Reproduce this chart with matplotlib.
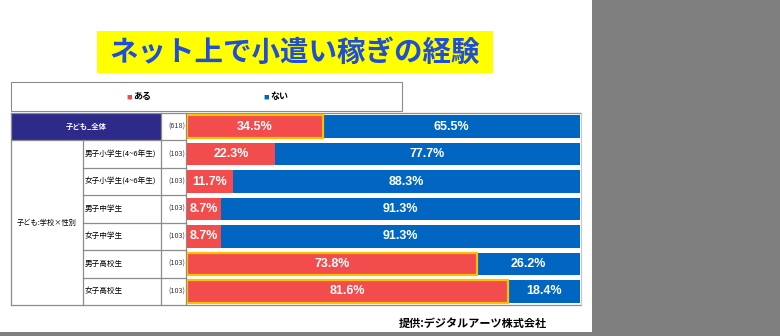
import matplotlib
matplotlib.use('Agg')
import matplotlib.pyplot as plt
from matplotlib.patches import Rectangle

plt.rcParams['font.family'] = ['Noto Sans CJK JP', 'DejaVu Sans']

# ---------------- data ----------------
title = 'ネット上で小遣い稼ぎの経験'
series_names = ['ある', 'ない']
group_label = '子ども:学校×性別'
categories = ['子ども_全体', '男子小学生(4~6年生)', '女子小学生(4~6年生)',
              '男子中学生', '女子中学生', '男子高校生', '女子高校生']
sample_sizes = ['(618)', '(103)', '(103)', '(103)', '(103)', '(103)', '(103)']
aru = [34.5, 22.3, 11.7, 8.7, 8.7, 73.8, 81.6]
nai = [65.5, 77.7, 88.3, 91.3, 91.3, 26.2, 18.4]
highlight_rows = [0, 5, 6]
source = '提供:デジタルアーツ株式会社'

# ---------------- style ----------------
RED = '#F24C4C'
BLUE = '#0066C2'
ORANGE = '#FFC000'
NAVY = '#2D2A8A'
LINE = '#8C8C8C'
GRAY_BG = '#7F7F7F'
NUM_FONT = ['Liberation Sans Narrow', 'Liberation Sans', 'DejaVu Sans']

W, H = 780, 336
fig = plt.figure(figsize=(W / 100, H / 100), dpi=100)
fig.patch.set_facecolor('white')

bg = fig.add_axes([0, 0, 1, 1])
bg.set_xlim(0, W)
bg.set_ylim(H, 0)
bg.axis('off')

# gray surround
bg.add_patch(Rectangle((592, 0), W - 592, H, color=GRAY_BG, lw=0, zorder=0))
bg.add_patch(Rectangle((0, 332), 592, H - 332, color=GRAY_BG, lw=0, zorder=0))

# title
bg.add_patch(Rectangle((97, 31), 396, 42, color='#FFFF00', lw=0, zorder=1))
bg.text(295, 53, title, ha='center', va='center', fontsize=20.5,
        fontweight='bold', color='#1F4FD8', zorder=2)

# legend box
bg.add_patch(Rectangle((11, 82), 391, 29, facecolor='white', edgecolor=LINE,
                       lw=0.8, zorder=1))
for name, col, x in zip(series_names, [RED, BLUE], [129, 266]):
    bg.text(x, 97, '■', ha='center', va='center', fontsize=4, color=col, zorder=2)
    bg.text(x + 4, 97, name, ha='left', va='center', fontsize=6.5,
            fontweight='bold', color='black', zorder=2)

# table geometry
top, bottom = 113, 305
n = len(categories)
rh = (bottom - top) / n
row_y = [top + i * rh for i in range(n + 1)]
x0, x1, x2, x3, xr = 11, 83, 161, 186, 581

bg.add_patch(Rectangle((x0, top), x2 - x0, rh, color=NAVY, lw=0, zorder=1))
kw = dict(color=LINE, lw=0.9, zorder=3)
bg.plot([x0, xr], [top, top], **kw)
bg.plot([x0, xr], [bottom, bottom], **kw)
bg.plot([x0, x0], [top, bottom], **kw)
bg.plot([xr, xr], [top, bottom], color='#C8C8C8', lw=0.9, zorder=3)
bg.plot([x2, x2], [top, bottom], **kw)
bg.plot([x3, x3], [top, bottom], **kw)
bg.plot([x1, x1], [row_y[1], bottom], **kw)
bg.plot([x0, x3], [row_y[1], row_y[1]], **kw)
for yy in row_y[2:-1]:
    bg.plot([x1, x3], [yy, yy], **kw)

# text in table
bg.text((x0 + x2) / 2, (row_y[0] + row_y[1]) / 2, categories[0], ha='center',
        va='center', fontsize=5.3, fontweight='bold', color='white', zorder=4)
bg.text((x0 + x1) / 2, (row_y[1] + bottom) / 2, group_label, ha='center',
        va='center', fontsize=5.2, color='black', zorder=4)
for i in range(1, n):
    bg.text(x1 + 1.5, (row_y[i] + row_y[i + 1]) / 2, categories[i], ha='left',
            va='center', fontsize=5.5, color='black', zorder=4)
for i in range(n):
    bg.text(x3 - 1, (row_y[i] + row_y[i + 1]) / 2, sample_sizes[i], ha='right',
            va='center', fontsize=5.2, color='#333333', zorder=4)

# source
bg.text(473, 323, source, ha='center', va='center', fontsize=8,
        fontweight='bold', color='black', zorder=4)

# ---------------- bars ----------------
bl, br = 187, 580
ax = fig.add_axes([bl / W, (H - bottom) / H, (br - bl) / W, (bottom - top) / H])
ax.set_xlim(0, 100)
ax.set_ylim(n - 0.5, -0.5)
ax.axis('off')
ax.patch.set_alpha(0)

ypos = list(range(n))
ax.barh(ypos, nai, left=aru, height=0.82, color=BLUE, lw=0, zorder=2)
edges = [ORANGE if i in highlight_rows else 'none' for i in ypos]
ax.barh(ypos, aru, height=0.82, color=RED, edgecolor=edges, lw=1.6, zorder=3)

for i in ypos:
    ax.text(aru[i] / 2, i, f'{aru[i]:.1f}%', ha='center', va='center',
            fontsize=9, fontweight='bold', color='white', family=NUM_FONT, zorder=5)
    ax.text(aru[i] + nai[i] / 2, i, f'{nai[i]:.1f}%', ha='center', va='center',
            fontsize=9, fontweight='bold', color='white', family=NUM_FONT, zorder=5)

fig.savefig('out.png', dpi=100)
